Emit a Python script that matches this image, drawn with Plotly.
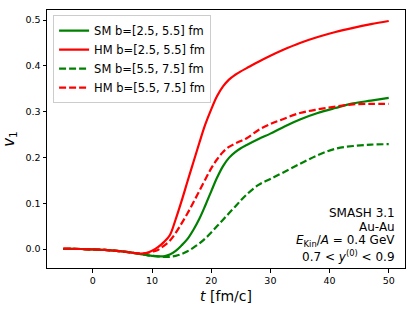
import plotly.graph_objects as go

t = [-5, -2, 0, 2, 4, 6, 8, 9, 10, 11, 12, 13, 14, 15, 16, 17, 18, 19, 20,
     21, 22, 23, 24, 25, 26, 28, 30, 32, 35, 38, 41, 44, 47, 50]

sm_central = [0.000, 0.000, -0.001, -0.002, -0.004, -0.007, -0.011, -0.013, -0.015, -0.016,
              -0.016, -0.012, -0.004, 0.008, 0.022, 0.042, 0.066, 0.095, 0.126,
              0.156, 0.181, 0.199, 0.211, 0.220, 0.227, 0.240, 0.252, 0.265, 0.283,
              0.297, 0.308, 0.318, 0.324, 0.330]

hm_central = [0.001, 0.000, -0.001, -0.002, -0.004, -0.007, -0.010, -0.009, -0.004, 0.004,
              0.015, 0.030, 0.065, 0.105, 0.148, 0.190, 0.232, 0.272, 0.305,
              0.334, 0.355, 0.370, 0.380, 0.388, 0.395, 0.409, 0.422, 0.434, 0.450,
              0.463, 0.474, 0.483, 0.491, 0.498]

sm_peripheral = [0.000, 0.000, -0.001, -0.002, -0.004, -0.007, -0.011, -0.013, -0.015, -0.016,
                 -0.017, -0.017, -0.015, -0.011, -0.005, 0.003, 0.012, 0.023, 0.036,
                 0.050, 0.064, 0.078, 0.092, 0.106, 0.119, 0.140, 0.153, 0.166, 0.186,
                 0.205, 0.219, 0.225, 0.228, 0.229]

hm_peripheral = [0.001, 0.000, -0.001, -0.002, -0.004, -0.007, -0.010, -0.009, -0.006, -0.002,
                 0.007, 0.018, 0.035, 0.056, 0.078, 0.102, 0.127, 0.152, 0.176,
                 0.196, 0.212, 0.223, 0.230, 0.236, 0.242, 0.260, 0.273, 0.283, 0.297,
                 0.305, 0.311, 0.316, 0.317, 0.317]

series_names = ["SM b=[2.5, 5.5] fm", "HM b=[2.5, 5.5] fm",
                "SM b=[5.5, 7.5] fm", "HM b=[5.5, 7.5] fm"]
series_values = [sm_central, hm_central, sm_peripheral, hm_peripheral]
series_colors = ["#008000", "#ff0000", "#008000", "#ff0000"]
series_dash = ["solid", "solid", "7px,3px", "7px,3px"]

info_lines = ["SMASH 3.1", "Au-Au",
              "<i>E</i><sub>Kin</sub>/<i>A</i> = 0.4 GeV",
              "0.7 &lt; <i>y</i><sup>(0)</sup> &lt; 0.9"]

FONT = "DejaVu Sans"

fig = go.Figure()
for name, vals, col, dash in zip(series_names, series_values, series_colors, series_dash):
    fig.add_trace(go.Scatter(x=t, y=vals, mode="lines", name=name,
                             line=dict(color=col, width=2.2, dash=dash,
                                       shape="spline", smoothing=1.0)))

ys = [0.215, 0.16, 0.103, 0.048]
for txt, yv in zip(info_lines, ys):
    fig.add_annotation(x=0.978, y=yv, xref="paper", yref="paper", text=txt,
                       showarrow=False, xanchor="right", yanchor="middle",
                       font=dict(family=FONT, size=12, color="black"))

axis_common = dict(showline=True, linecolor="black", linewidth=1, mirror=True,
                   ticks="outside", ticklen=3.5, tickwidth=1, tickcolor="black",
                   showgrid=False, zeroline=False, automargin=False,
                   tickfont=dict(family=FONT, size=9.5, color="black"))

fig.update_layout(
    width=415, height=311,
    margin=dict(l=47, r=10, t=10, b=43),
    paper_bgcolor="white", plot_bgcolor="white",
    font=dict(family=FONT, color="black"),
    xaxis=dict(range=[-7.75, 52.75], tickvals=[0, 10, 20, 30, 40, 50],
               title=dict(text="<i>t</i> [fm/c]", font=dict(family=FONT, size=14), standoff=6),
               **axis_common),
    yaxis=dict(range=[-0.0415, 0.522], tickvals=[0, 0.1, 0.2, 0.3, 0.4, 0.5],
               tickformat=".1f",
               title=dict(text="<i>v</i><sub>1</sub>", font=dict(family=FONT, size=15), standoff=8),
               **axis_common),
    legend=dict(x=0.017, y=0.98, xanchor="left", yanchor="top",
                bgcolor="white", bordercolor="#cccccc", borderwidth=1,
                font=dict(family=FONT, size=11.5), itemwidth=30,
                tracegroupgap=0),
    showlegend=True,
)

fig.write_html("out.html", config={"displayModeBar": False},
               post_script="document.body.style.margin='0px';document.body.style.overflow='hidden';")
